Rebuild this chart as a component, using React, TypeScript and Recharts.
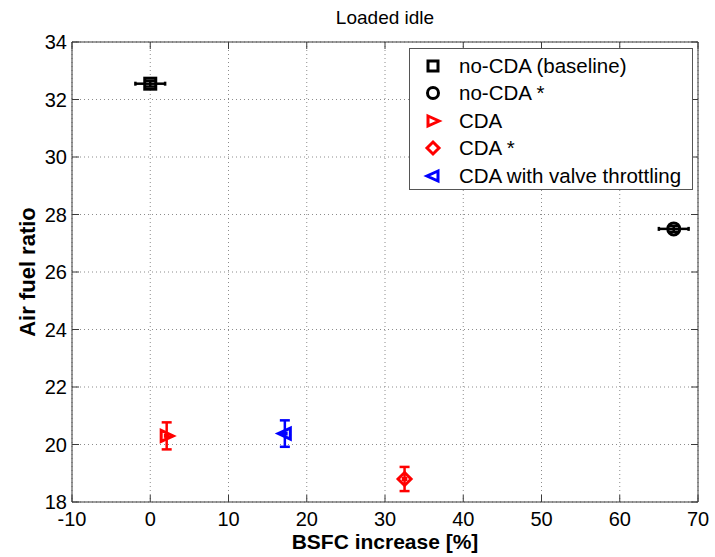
import {
  ScatterChart,
  Scatter,
  XAxis,
  YAxis,
  CartesianGrid,
  ErrorBar,
  Legend,
  ReferenceLine,
  Label,
} from "recharts";

// series: BSFC increase vs air fuel ratio at loaded idle
const seriesNames = [
  "no-CDA (baseline)",
  "no-CDA *",
  "CDA",
  "CDA *",
  "CDA with valve throttling",
];
const seriesColors = ["#000000", "#000000", "#ff0000", "#ff0000", "#0000ff"];
const seriesMarkers = ["square", "circle", "triangleRight", "diamond", "triangleLeft"];
const bsfcIncrease = [0, 66.9, 2.1, 32.5, 17.2];
const airFuelRatio = [32.55, 27.5, 20.3, 18.8, 20.38];
const bsfcError = [1.9, 1.9, 0.2, 0.2, 0.2];
const afrError = [0.1, 0.1, 0.47, 0.42, 0.46];

const xTicks = [-10, 0, 10, 20, 30, 40, 50, 60, 70];
const yTicks = [18, 20, 22, 24, 26, 28, 30, 32, 34];

const WIDTH = 715;
const HEIGHT = 557;
const PLOT_TOP = 42;
const PLOT_LEFT = 72;
const PLOT_RIGHT = 698;
const PLOT_BOTTOM = 502;
const FONT = "'Liberation Sans', Arial, Helvetica, sans-serif";
const AXIS_COLOR = "#3a3a3a";
const TICK_LEN = 7;

type MarkerProps = { kind: string; color: string; cx: number; cy: number; s?: number; sw?: number };

function Marker({ kind, color, cx, cy, s = 6.5, sw = 3 }: MarkerProps) {
  const common = { fill: "none", stroke: color, strokeWidth: sw, strokeLinejoin: "miter" as const };
  switch (kind) {
    case "square":
      return <rect x={cx - s + 1} y={cy - s + 1} width={2 * s - 2} height={2 * s - 2} {...common} />;
    case "circle":
      return <circle cx={cx} cy={cy} r={s - 0.5} {...common} />;
    case "triangleRight":
      return (
        <polygon points={`${cx - s + 1},${cy - s + 1} ${cx + s},${cy} ${cx - s + 1},${cy + s - 1}`} {...common} />
      );
    case "triangleLeft":
      return (
        <polygon points={`${cx + s - 1},${cy - s + 1} ${cx - s},${cy} ${cx + s - 1},${cy + s - 1}`} {...common} />
      );
    case "diamond":
      return (
        <polygon points={`${cx},${cy - s} ${cx + s},${cy} ${cx},${cy + s} ${cx - s},${cy}`} {...common} />
      );
    default:
      return null;
  }
}

function XTick(props: any) {
  const { x, y, payload } = props;
  return (
    <g>
      <line x1={x} y1={y} x2={x} y2={y - TICK_LEN} stroke={AXIS_COLOR} />
      <line x1={x} y1={PLOT_TOP} x2={x} y2={PLOT_TOP + TICK_LEN} stroke={AXIS_COLOR} />
      <text x={x} y={y + 24} textAnchor="middle" fontSize={20} fontFamily={FONT} fill="#000">
        {payload.value}
      </text>
    </g>
  );
}

function YTick(props: any) {
  const { x, y, payload } = props;
  return (
    <g>
      <line x1={x} y1={y} x2={x + TICK_LEN} y2={y} stroke={AXIS_COLOR} />
      <line x1={PLOT_RIGHT - TICK_LEN} y1={y} x2={PLOT_RIGHT} y2={y} stroke={AXIS_COLOR} />
      <text x={x - 5} y={y + 7} textAnchor="end" fontSize={20} fontFamily={FONT} fill="#000">
        {payload.value}
      </text>
    </g>
  );
}

function LegendBox() {
  return (
    <div
      style={{
        border: "1px solid #555",
        background: "#fff",
        width: 284,
        height: 142,
        boxSizing: "border-box",
        padding: "3px 0 0 0",
        fontFamily: FONT,
        fontSize: 20.5,
      }}
    >
      {seriesNames.map((name, i) => (
        <div key={name} style={{ display: "flex", alignItems: "center", height: 27.5 }}>
          <svg width={48} height={20} style={{ flex: "none" }}>
            <Marker kind={seriesMarkers[i]} color={seriesColors[i]} cx={23} cy={10} s={6} sw={3} />
          </svg>
          <span style={{ marginLeft: 1, whiteSpace: "nowrap", color: "#000" }}>{name}</span>
        </div>
      ))}
    </div>
  );
}

export default function App() {
  return (
    <div style={{ position: "absolute", left: 0, top: 0, width: WIDTH, height: HEIGHT, background: "#fff" }}>
      <ScatterChart
        width={WIDTH}
        height={HEIGHT}
        margin={{ top: PLOT_TOP, right: WIDTH - PLOT_RIGHT, bottom: 5, left: PLOT_LEFT - 60 }}
      >
        <CartesianGrid stroke="#8c8c8c" strokeDasharray="1 3" />
        <XAxis
          type="number"
          dataKey="x"
          domain={[-10, 70]}
          ticks={xTicks}
          interval={0}
          allowDataOverflow
          height={HEIGHT - 5 - PLOT_BOTTOM}
          tickSize={0}
          tickMargin={0}
          tickLine={false}
          axisLine={{ stroke: AXIS_COLOR }}
          tick={<XTick />}
        >
          <Label
            value="BSFC increase [%]"
            position="insideBottom"
            offset={3}
            style={{ fontFamily: FONT, fontSize: 21, fontWeight: "bold", fill: "#000" }}
          />
        </XAxis>
        <YAxis
          type="number"
          dataKey="y"
          domain={[18, 34]}
          ticks={yTicks}
          interval={0}
          allowDataOverflow
          width={60}
          tickSize={0}
          tickMargin={0}
          tickLine={false}
          axisLine={{ stroke: AXIS_COLOR }}
          tick={<YTick />}
          label={{
            content: () => (
              <text
                x={35}
                y={(PLOT_TOP + PLOT_BOTTOM) / 2}
                transform={`rotate(-90 35 ${(PLOT_TOP + PLOT_BOTTOM) / 2})`}
                textAnchor="middle"
                fontFamily={FONT}
                fontSize={22}
                fontWeight="bold"
                fill="#000"
              >
                Air fuel ratio
              </text>
            ),
          }}
        />
        <ReferenceLine y={34} stroke={AXIS_COLOR} ifOverflow="visible">
          <Label
            value="Loaded idle"
            position="top"
            offset={18}
            style={{ fontFamily: FONT, fontSize: 19, fill: "#000" }}
          />
        </ReferenceLine>
        <ReferenceLine x={70} stroke={AXIS_COLOR} ifOverflow="visible" />
        {seriesNames.map((name, i) => (
          <Scatter
            key={name}
            name={name}
            data={[{ x: bsfcIncrease[i], y: airFuelRatio[i], xErr: bsfcError[i], yErr: afrError[i] }]}
            isAnimationActive={false}
            shape={(p: any) => <Marker kind={seriesMarkers[i]} color={seriesColors[i]} cx={p.cx} cy={p.cy} />}
          >
            <ErrorBar dataKey="xErr" direction="x" width={2} stroke={seriesColors[i]} strokeWidth={2.5} />
            <ErrorBar dataKey="yErr" direction="y" width={5} stroke={seriesColors[i]} strokeWidth={2.5} />
          </Scatter>
        ))}
        <Legend
          layout="vertical"
          align="center"
          verticalAlign="middle"
          content={() => <LegendBox />}
          wrapperStyle={{ left: 409, top: 48, width: 284, height: 142 }}
        />
      </ScatterChart>
    </div>
  );
}
